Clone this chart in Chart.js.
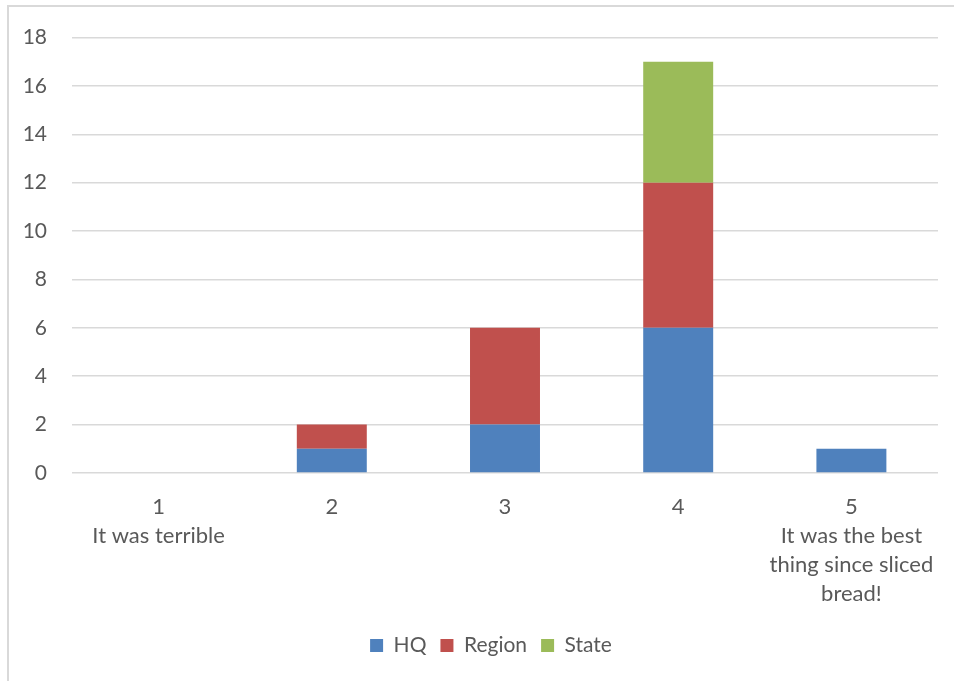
<!DOCTYPE html>
<html>
<head>
<meta charset="utf-8">
<script src="https://cdn.jsdelivr.net/npm/chart.js@4"></script>
<style>
  body { margin: 0; background: #fff; }
  .frame { position: absolute; left: 7px; top: 5px; width: 960px; height: 700px; border-left: 2px solid #d9d9d9; border-top: 2px solid #d9d9d9; }
  .wrap { position: absolute; left: 0; top: 0; width: 954px; height: 681px; }
</style>
</head>
<body>
<div class="frame"></div>
<div class="wrap"><canvas id="chart"></canvas></div>
<script>
// 类别与数据
const categories = [
    ['1', 'It was terrible'],
    ['2'],
    ['3'],
    ['4'],
    ['5', 'It was the best', 'thing since sliced', 'bread!']
];
const hqValues = [0, 1, 2, 6, 1];
const regionValues = [0, 1, 4, 6, 0];
const stateValues = [0, 0, 0, 5, 0];

const fontFamily = 'Lato, "Open Sans", sans-serif';
const textColor = '#595959';

// 把图例往右挪一点，对齐原图
const legendShift = {
    id: 'legendShift',
    afterLayout(chart) {
        if (chart.legend) {
            chart.legend.left += 22;
            chart.legend.right += 22;
        }
    }
};

const ctx = document.getElementById('chart').getContext('2d');
new Chart(ctx, {
    type: 'bar',
    data: {
        labels: categories,
        datasets: [
            { label: 'HQ', data: hqValues, backgroundColor: '#4f81bd' },
            { label: 'Region', data: regionValues, backgroundColor: '#c0504d' },
            { label: 'State', data: stateValues, backgroundColor: '#9bbb59' }
        ]
    },
    options: {
        responsive: true,
        maintainAspectRatio: false,
        animation: false,
        datasets: {
            bar: { barPercentage: 0.8, categoryPercentage: 0.505 }
        },
        layout: { padding: { top: 33, right: 16, bottom: 15, left: 0 } },
        plugins: {
            legend: {
                position: 'bottom',
                labels: {
                    boxWidth: 13,
                    boxHeight: 13,
                    padding: 14,
                    color: textColor,
                    font: { family: fontFamily, size: 21 }
                }
            },
            tooltip: { enabled: false }
        },
        scales: {
            x: {
                stacked: true,
                grid: { display: false },
                border: { display: false },
                ticks: {
                    color: textColor,
                    padding: 11,
                    maxRotation: 0,
                    autoSkip: false,
                    font: { family: fontFamily, size: 22, lineHeight: 1.32 }
                },
                afterFit: function(scale) { scale.height = 148; }
            },
            y: {
                stacked: true,
                min: 0,
                max: 18,
                grid: { color: '#d9d9d9', lineWidth: 1.5, drawTicks: false },
                border: { display: false },
                ticks: {
                    stepSize: 2,
                    color: textColor,
                    padding: 25,
                    font: { family: fontFamily, size: 21 }
                },
                afterFit: function(scale) { scale.width = 72; }
            }
        }
    },
    plugins: [legendShift]
});
</script>
</body>
</html>
